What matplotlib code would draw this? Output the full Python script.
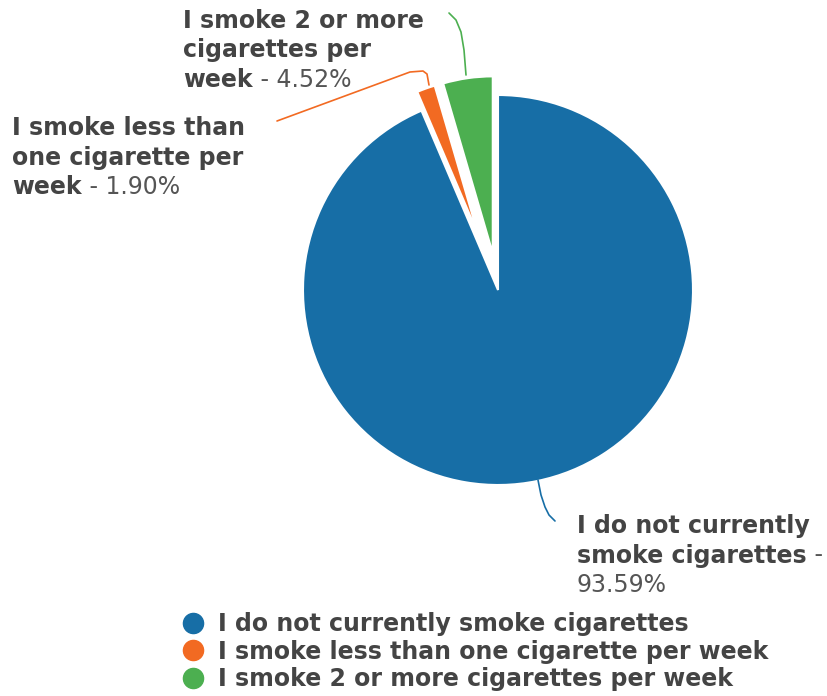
import numpy as np
import matplotlib.pyplot as plt
from matplotlib.lines import Line2D

# data
labels = ['I do not currently smoke cigarettes',
          'I smoke less than one cigarette per week',
          'I smoke 2 or more cigarettes per week']
shares = [93.59, 1.90, 4.52]
colors = ['#176ea6', '#f26a22', '#4caf50']

W, H = 827, 696
fs = 17
txtc = '#444444'

fig = plt.figure(figsize=(W / 100, H / 100), dpi=100)
ax = fig.add_axes([0, 0, 1, 1])

# pie in pixel-like data units (y up)
cx, cy, r = 498, H - 290, 195
wedges, _ = ax.pie(shares, colors=colors, startangle=90, counterclock=False,
                   center=(cx, cy), radius=r, explode=[0, 59, 37],
                   wedgeprops=dict(edgecolor='white', linewidth=1.5))
wedges[1].set_radius(155)
wedges[2].set_radius(177)
ax.set_xlim(0, W)
ax.set_ylim(0, H)
ax.set_aspect('equal')
ax.axis('off')


def put_label(x, y, lines, step=29.5):
    # lines: list of (bold part, normal part)
    for i, (b, n) in enumerate(lines):
        yy = H - y - i * step
        if b:
            t = ax.text(x, yy, b, fontsize=fs, fontweight='bold', color=txtc, va='baseline')
            if n:
                ax.annotate(n, xy=(1, 0), xycoords=t, va='bottom', ha='left',
                            fontsize=fs, color='#555555')
        else:
            ax.text(x, yy, n, fontsize=fs, color='#555555', va='baseline')


put_label(183, 28, [('I smoke 2 or more', ''), ('cigarettes per', ''),
                    ('week', ' - %.2f%%' % shares[2])])
put_label(12, 135, [('I smoke less than', ''), ('one cigarette per', ''),
                    ('week', ' - %.2f%%' % shares[1])])
put_label(577, 533, [('I do not currently', ''), ('smoke cigarettes', ' -'),
                     ('', '%.2f%%' % shares[0])])

# leader lines
leaders = [
    ([538, 541, 545, 549, 555], [480, 495, 507, 515, 521], colors[0]),
    ([429, 427, 423, 410, 277], [85, 74, 71, 72, 121], colors[1]),
    ([466, 464, 461, 456, 449], [75, 50, 32, 20, 13], colors[2]),
]
for xs, ys, c in leaders:
    ax.plot(xs, [H - v for v in ys], color=c, lw=1.2, solid_capstyle='round')

handles = [Line2D([], [], marker='o', linestyle='', markersize=14.5, color=c) for c in colors]
fig.legend(handles, labels, loc='upper left', bbox_to_anchor=(181 / W, 1 - 612 / H),
           frameon=False, borderpad=0, borderaxespad=0, handlelength=1.0,
           handletextpad=0.55, labelspacing=0.15, labelcolor=txtc,
           prop={'weight': 'bold', 'size': fs})

fig.savefig('out.png', dpi=100)
